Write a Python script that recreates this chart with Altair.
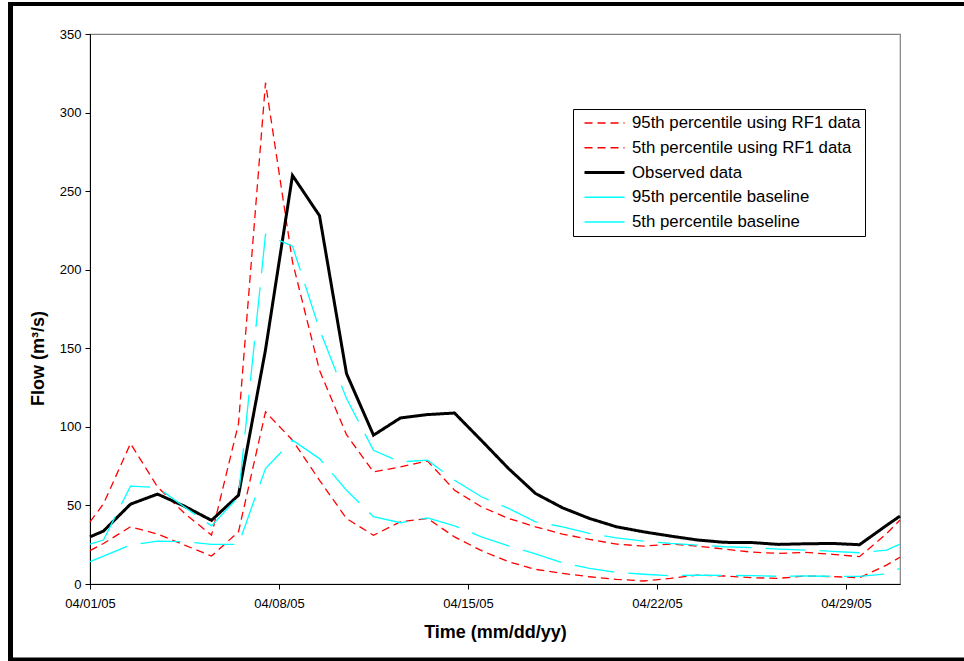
import altair as alt
import pandas as pd

# ---- data ----
times = [
    "2005-04-01T00:00", "2005-04-01T12:00", "2005-04-02T12:00", "2005-04-03T12:00",
    "2005-04-04T12:00", "2005-04-05T12:00", "2005-04-06T12:00", "2005-04-07T12:00",
    "2005-04-08T12:00", "2005-04-09T12:00", "2005-04-10T12:00", "2005-04-11T12:00",
    "2005-04-12T12:00", "2005-04-13T12:00", "2005-04-14T12:00", "2005-04-15T12:00",
    "2005-04-16T12:00", "2005-04-17T12:00", "2005-04-18T12:00", "2005-04-19T12:00",
    "2005-04-20T12:00", "2005-04-21T12:00", "2005-04-22T12:00", "2005-04-23T12:00",
    "2005-04-24T12:00", "2005-04-25T12:00", "2005-04-26T12:00", "2005-04-27T12:00",
    "2005-04-28T12:00", "2005-04-29T12:00", "2005-04-30T12:00", "2005-05-01T00:00",
]

rf1_95 = [39.6, 51.0, 89.4, 61.8, 45.0, 31.1, 102.0, 319.0, 205.0, 136.0, 95.0, 71.3,
          74.5, 78.3, 59.7, 49.1, 41.7, 36.4, 31.8, 28.4, 25.4, 24.1, 25.4, 24.1,
          22.2, 20.3, 19.5, 20.1, 18.9, 17.4, 32.0, 40.7]
rf1_5 = [21.2, 25.8, 36.4, 31.8, 24.8, 17.8, 33.2, 109.5, 91.5, 66.0, 41.7, 31.0,
         39.6, 41.7, 30.0, 21.2, 14.2, 9.3, 6.8, 4.6, 3.0, 1.9, 3.6, 5.7,
         5.1, 4.0, 3.6, 5.1, 4.7, 4.0, 12.0, 17.0]
observed = [30.0, 33.7, 50.8, 57.2, 49.5, 40.5, 56.5, 149.0, 260.0, 234.4, 133.9, 94.7,
            105.7, 107.8, 108.8, 91.3, 73.5, 57.6, 48.5, 41.7, 36.4, 33.2, 30.5, 28.0,
            26.5, 26.4, 25.2, 25.6, 25.8, 25.0, 37.3, 43.2]
base_95 = [25.4, 28.0, 62.3, 61.4, 49.0, 37.0, 55.5, 222.4, 215.0, 162.0, 118.0, 85.1,
           77.7, 78.8, 66.0, 55.5, 48.1, 39.6, 36.4, 32.2, 29.4, 27.3, 25.8, 24.8,
           23.7, 23.1, 22.2, 21.6, 20.8, 19.9, 21.6, 25.4]
base_5 = [14.2, 17.8, 24.8, 27.3, 26.9, 25.2, 25.2, 73.5, 91.5, 79.8, 59.7, 42.8,
          39.0, 42.1, 37.0, 30.0, 24.3, 19.1, 13.5, 10.0, 7.4, 6.2, 5.3, 5.7,
          5.5, 5.3, 4.9, 5.1, 4.9, 4.9, 6.4, 10.0]

series_names = [
    "95th percentile using RF1 data",
    "5th percentile using RF1 data",
    "Observed data",
    "95th percentile baseline",
    "5th percentile baseline",
]
series_values = [rf1_95, rf1_5, observed, base_95, base_5]

y_ticks = [0, 50, 100, 150, 200, 250, 300, 350]
x_tick_days = [1, 8, 15, 22, 29]

# ---- styling ----
colors = ["#FF0000", "#FF0000", "#000000", "#00FFFF", "#00FFFF"]
dashes = [[8, 5], [8, 5], [1, 0], [40, 14], [40, 14]]
widths = [1.3, 1.3, 3.0, 1.3, 1.3]

rows = []
for name, vals in zip(series_names, series_values):
    for t, v in zip(times, vals):
        rows.append({"time": t, "flow": v, "series": name})
df = pd.DataFrame(rows)

FONT = "Liberation Sans"

legend = alt.Legend(
    orient="none", legendX=483, legendY=75,
    symbolType="stroke", symbolSize=1600, symbolOffset=6,
    labelFontSize=16.8, labelFont=FONT,
    labelColor="black", labelLimit=400, labelOffset=6,
    clipHeight=20, rowPadding=4.75,
    padding=4, strokeColor="black", fillColor="white",
)

lines = alt.Chart(df).mark_line(strokeCap="butt").encode(
    x=alt.X(
        "time:T",
        scale=alt.Scale(domain=[alt.DateTime(year=2005, month=4, date=1),
                                alt.DateTime(year=2005, month=5, date=1)]),
        axis=alt.Axis(
            values=[alt.DateTime(year=2005, month=4, date=d) for d in x_tick_days],
            format="%m/%d/%y", title="Time (mm/dd/yy)", labelFont=FONT,
            labelFontSize=13, labelColor="black", tickSize=5, tickColor="black",
            domainColor="black", labelPadding=8, labelFlush=False, grid=False,
            titleFont=FONT, titleFontSize=18, titleFontWeight="bold",
            titleColor="black", titleY=48, titleBaseline="middle",
        ),
    ),
    y=alt.Y(
        "flow:Q",
        scale=alt.Scale(domain=[0, 350], nice=False),
        axis=alt.Axis(
            values=y_ticks, format="d", title="Flow (m³/s)", labelFont=FONT,
            labelFontSize=13, labelColor="black", tickSize=5, tickColor="black",
            domainColor="black", labelPadding=4, grid=False,
            titleFont=FONT, titleFontSize=18, titleFontWeight="bold",
            titleColor="black", titleX=-52, titleY=324, titleAngle=-90,
            titleAlign="center", titleBaseline="middle",
        ),
    ),
    color=alt.Color("series:N", title=None,
                    scale=alt.Scale(domain=series_names, range=colors),
                    sort=series_names, legend=legend),
    strokeDash=alt.StrokeDash("series:N", title=None,
                              scale=alt.Scale(domain=series_names, range=dashes),
                              sort=series_names, legend=legend),
    strokeWidth=alt.StrokeWidth("series:N", title=None,
                                scale=alt.Scale(type="ordinal", domain=series_names,
                                                range=widths),
                                sort=series_names, legend=legend),
)

frame_df = pd.DataFrame({"k": [0]})
top_bar = alt.Chart(frame_df).mark_rule(color="black", strokeWidth=4).encode(
    x=alt.value(-82), x2=alt.value(874), y=alt.value(-30))
left_bar = alt.Chart(frame_df).mark_rule(color="black", strokeWidth=5).encode(
    x=alt.value(-79.5), y=alt.value(-32), y2=alt.value(627))
bottom_bar = alt.Chart(frame_df).mark_rule(color="black", strokeWidth=4).encode(
    x=alt.value(-82), x2=alt.value(874), y=alt.value(625.5))

chart = alt.layer(lines, top_bar, left_bar, bottom_bar).properties(
    width=810, height=550,
    autosize=alt.AutoSizeParams(type="none"),
    padding={"left": 90, "top": 34, "right": 64, "bottom": 77},
    background="white",
).configure_view(stroke="#808080", strokeWidth=1.2)

chart.save("out.html", embed_options={"renderer": "svg", "actions": False})
